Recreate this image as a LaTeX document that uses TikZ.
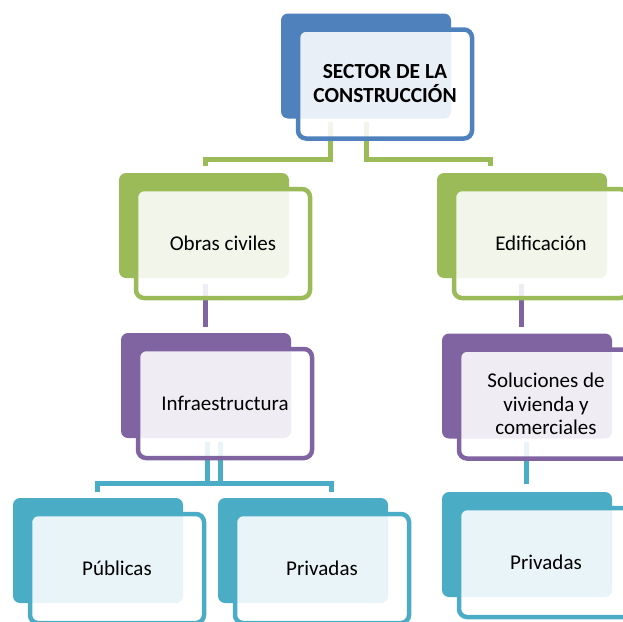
\documentclass[tikz,border=0pt]{standalone}
\usepackage{fontspec}
\setmainfont{Carlito}
\definecolor{blueC}{HTML}{4F81BD}
\definecolor{greenC}{HTML}{9BBB59}
\definecolor{purpleC}{HTML}{8064A2}
\definecolor{tealC}{HTML}{4BACC6}
\pgfdeclarelayer{edgelayer}
\pgfdeclarelayer{nodelayer}
\pgfsetlayers{edgelayer,nodelayer,main}
\tikzstyle{none}=[inner sep=0pt]
\tikzstyle{back}=[rectangle,rounded corners=7pt,minimum width=170pt,minimum height=105pt,inner sep=0pt]
\tikzstyle{front}=[rectangle,rounded corners=8pt,minimum width=174pt,minimum height=109pt,inner sep=0pt,line width=4.5pt,fill=white,fill opacity=0.88,text opacity=1,text=black,align=center,font=\fontsize{21}{23.5}\selectfont]
\tikzstyle{link}=[-,line width=5pt,line join=miter]

\begin{document}
\begin{tikzpicture}[x=1pt,y=-1pt]
	\useasboundingbox (0,0) rectangle (623,621);
	\begin{pgfonlayer}{nodelayer}
		\node [style=back, fill=blueC] (0) at (366, 66) {};
		\node [style=front, draw=blueC, font=\fontsize{21.5}{24}\selectfont\bfseries] (1) at (385, 84) {SECTOR DE LA\\CONSTRUCCIÓN};
		\node [style=back, fill=greenC] (2) at (204, 225.5) {};
		\node [style=front, draw=greenC] (3) at (223, 243.5) {Obras civiles};
		\node [style=back, fill=greenC] (4) at (522, 225.5) {};
		\node [style=front, draw=greenC] (5) at (541, 243.5) {Edificación};
		\node [style=back, fill=purpleC] (6) at (206, 385.5) {};
		\node [style=front, draw=purpleC] (7) at (225, 403.5) {Infraestructura};
		\node [style=back, fill=purpleC] (8) at (527, 386) {};
		\node [style=front, draw=purpleC] (9) at (546, 404) {Soluciones de\\vivienda y\\comerciales};
		\node [style=back, fill=tealC] (10) at (98, 550.5) {};
		\node [style=front, draw=tealC] (11) at (117, 568.5) {Públicas};
		\node [style=back, fill=tealC] (12) at (303, 550.5) {};
		\node [style=front, draw=tealC] (13) at (322, 568.5) {Privadas};
		\node [style=back, fill=tealC] (14) at (527, 544.5) {};
		\node [style=front, draw=tealC] (15) at (546, 562.5) {Privadas};
		\node [style=none] (20) at (330, 122) {};
		\node [style=none] (21) at (330, 159) {};
		\node [style=none] (22) at (205, 159) {};
		\node [style=none] (23) at (205, 166) {};
		\node [style=none] (24) at (366, 122) {};
		\node [style=none] (25) at (366, 159) {};
		\node [style=none] (26) at (490, 159) {};
		\node [style=none] (27) at (490, 166) {};
		\node [style=none] (28) at (205, 284) {};
		\node [style=none] (29) at (205, 327) {};
		\node [style=none] (30) at (521, 284) {};
		\node [style=none] (31) at (521, 327) {};
		\node [style=none] (32) at (207, 442) {};
		\node [style=none] (33) at (207, 483) {};
		\node [style=none] (34) at (220, 442) {};
		\node [style=none] (35) at (220, 483) {};
		\node [style=none] (36) at (97, 483) {};
		\node [style=none] (37) at (97, 492) {};
		\node [style=none] (38) at (331, 483) {};
		\node [style=none] (39) at (331, 492) {};
		\node [style=none] (40) at (526, 442) {};
		\node [style=none] (41) at (526, 484) {};
	\end{pgfonlayer}
	\begin{pgfonlayer}{edgelayer}
		\draw [style=link, draw=greenC] (20.center) to (21.center) to (22.center) to (23.center);
		\draw [style=link, draw=greenC] (24.center) to (25.center) to (26.center) to (27.center);
		\draw [style=link, draw=purpleC] (28.center) to (29.center);
		\draw [style=link, draw=purpleC] (30.center) to (31.center);
		\draw [style=link, draw=tealC] (32.center) to (33.center);
		\draw [style=link, draw=tealC] (34.center) to (35.center);
		\draw [style=link, draw=tealC] (37.center) to (36.center) to (38.center) to (39.center);
		\draw [style=link, draw=tealC] (40.center) to (41.center);
	\end{pgfonlayer}
\end{tikzpicture}
\end{document}
